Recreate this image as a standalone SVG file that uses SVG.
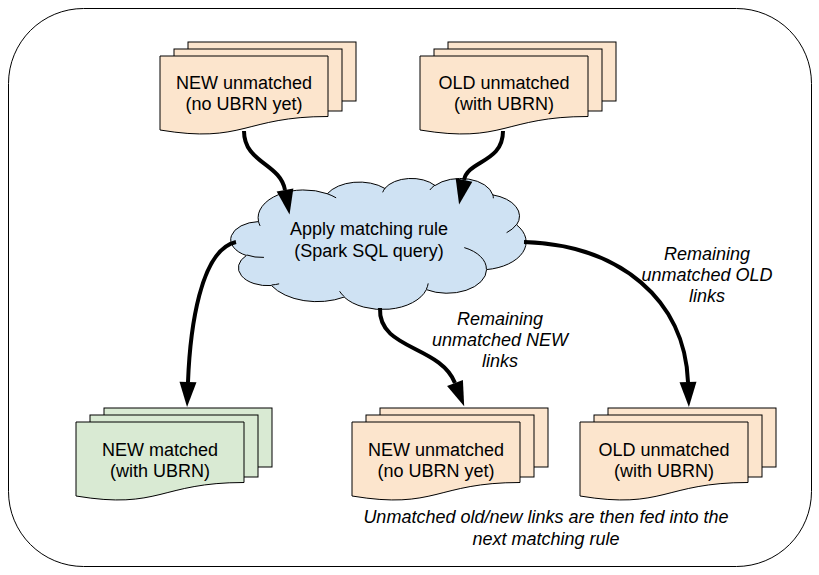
<svg xmlns="http://www.w3.org/2000/svg" width="819" height="575" viewBox="0 0 819 575">
<style>
.pg{stroke:#000;stroke-width:1}
.new .pg{fill:#fce5cd}
.done .pg{fill:#d9ead3}
.t{font-family:"Liberation Sans",Arial,sans-serif;font-size:18px;fill:#000;text-anchor:middle}
.i{font-style:italic}
.conn{fill:none;stroke:#000;stroke-width:4}
.cloud{fill:#cfe2f3;stroke:#000;stroke-width:1}
.cin{fill:none;stroke:#000;stroke-width:1}
</style>
<defs>
<marker id="ah" markerUnits="userSpaceOnUse" markerWidth="26" markerHeight="18" refX="0" refY="8.5" orient="auto" overflow="visible">
<path d="M0,0 L25,8.5 L0,17 Z" fill="#000"/>
</marker>
</defs>
<rect id="frame" x="8.5" y="8.5" width="803" height="558" rx="75" ry="75" fill="#fff" stroke="#000" stroke-width="1"/>

<g id="new-unmatched-in" class="new" transform="translate(160,56)">
<rect class="pg" x="28" y="-14" width="168" height="59"/>
<rect class="pg" x="14" y="-7" width="168" height="62"/>
<path class="pg" d="M0,0 H168 V60.5 C84,60.5 84,88 0,74 Z"/>
<text class="t" x="84" y="33">NEW unmatched</text>
<text class="t" x="84" y="54">(no UBRN yet)</text>
</g>

<g id="old-unmatched-in" class="new" transform="translate(420,56)">
<rect class="pg" x="28" y="-14" width="168" height="59"/>
<rect class="pg" x="14" y="-7" width="168" height="62"/>
<path class="pg" d="M0,0 H168 V60.5 C84,60.5 84,88 0,74 Z"/>
<text class="t" x="84" y="33">OLD unmatched</text>
<text class="t" x="84" y="54">(with UBRN)</text>
</g>

<g id="matching-rule">
<g transform="translate(232,178) scale(0.0068056,0.0030324)">
<path class="cloud" vector-effect="non-scaling-stroke" d="M3900,14370 A6753,9190 0 0 1 14004,5199 A5333,7267 0 0 1 22456,3431 A4365,5945 0 0 1 29833,2481 A4857,6595 0 0 1 38318,5575 A5333,7273 0 0 1 41818,15460 A6775,9220 0 0 1 37405,30205 A5785,7867 0 0 1 28556,36815 A6752,9215 0 0 1 16481,39266 A7720,10543 0 0 1 5805,35474 A4360,5918 0 0 1 2114,25551 A4345,5945 0 0 1 3900,14370 Z"/>
<path class="cin" vector-effect="non-scaling-stroke" d="M4693,26177 A4345,5945 0 0 1 2160,25380 M6928,34899 A4360,5918 0 0 1 5819,35281 M16478,39090 A6752,9215 0 0 1 15810,37349 M28827,34751 A6752,9215 0 0 1 28560,36661 M34129,22954 A5785,7867 0 0 1 37381,30090 M41798,15354 A5333,7273 0 0 1 40350,18030 M38324,5426 A4857,6595 0 0 1 38401,6691 M29078,3952 A4857,6595 0 0 1 29820,2340 M22141,4720 A4365,5945 0 0 1 22500,3330 M14000,5192 A6753,9190 0 0 1 15302,6543 M4127,15789 A6753,9190 0 0 1 3900,14371"/>
</g>
<text class="t" x="369" y="235">Apply matching rule</text>
<text class="t" x="369" y="256.5">(Spark SQL query)</text>
</g>

<g id="new-matched" class="done" transform="translate(76,422)">
<rect class="pg" x="28" y="-14" width="168" height="59"/>
<rect class="pg" x="14" y="-7" width="168" height="62"/>
<path class="pg" d="M0,0 H168 V60.5 C84,60.5 84,88 0,74 Z"/>
<text class="t" x="84" y="34">NEW matched</text>
<text class="t" x="84" y="55">(with UBRN)</text>
</g>

<g id="new-unmatched-out" class="new" transform="translate(352,422)">
<rect class="pg" x="28" y="-14" width="168" height="59"/>
<rect class="pg" x="14" y="-7" width="168" height="62"/>
<path class="pg" d="M0,0 H168 V60.5 C84,60.5 84,88 0,74 Z"/>
<text class="t" x="84" y="34">NEW unmatched</text>
<text class="t" x="84" y="55">(no UBRN yet)</text>
</g>

<g id="old-unmatched-out" class="new" transform="translate(580,422)">
<rect class="pg" x="28" y="-14" width="168" height="59"/>
<rect class="pg" x="14" y="-7" width="168" height="62"/>
<path class="pg" d="M0,0 H168 V60.5 C84,60.5 84,88 0,74 Z"/>
<text class="t" x="84" y="34">OLD unmatched</text>
<text class="t" x="84" y="55">(with UBRN)</text>
</g>

<g id="connectors">
<path class="conn" marker-end="url(#ah)" d="M244,131 C244,163 280,163 285,190"/>
<path class="conn" marker-end="url(#ah)" d="M503,131 C503,163 468,160 464,180"/>
<path class="conn" marker-end="url(#ah)" d="M236,242 C200,250 190,330 188,382"/>
<path class="conn" marker-end="url(#ah)" d="M380,308 C378,350 440,345 455,383"/>
<path class="conn" marker-end="url(#ah)" d="M524,242 C620,245 685,300 688,382"/>
<text class="t i" x="500" y="325">Remaining</text>
<text class="t i" x="500" y="346">unmatched NEW</text>
<text class="t i" x="500" y="367">links</text>
<text class="t i" x="707" y="260">Remaining</text>
<text class="t i" x="707" y="281">unmatched OLD</text>
<text class="t i" x="707" y="302">links</text>
</g>

<g id="note">
<text class="t i" x="546" y="523">Unmatched old/new links are then fed into the</text>
<text class="t i" x="546" y="545">next matching rule</text>
</g>
</svg>
